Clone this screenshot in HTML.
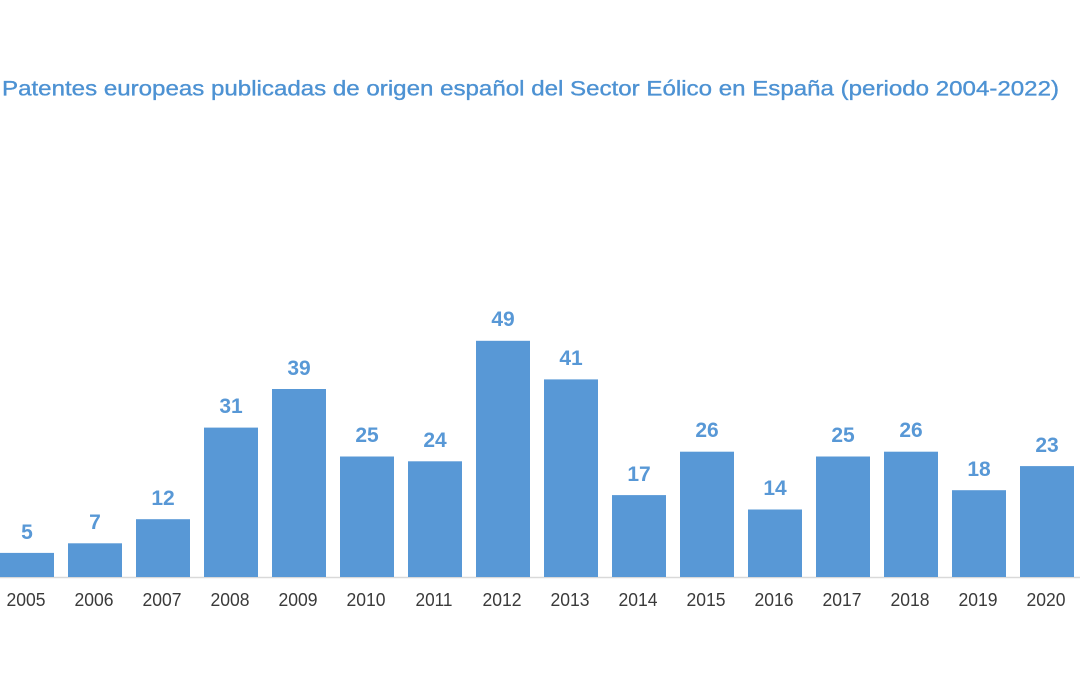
<!DOCTYPE html>
<html>
<head>
<meta charset="utf-8">
<style>
  html, body { margin:0; padding:0; background:#ffffff; }
  body { width:1080px; height:675px; overflow:hidden; }
  svg { display:block; }
</style>
</head>
<body>
<svg width="1080" height="675" viewBox="0 0 1080 675" xmlns="http://www.w3.org/2000/svg">
  <rect x="0" y="0" width="1080" height="675" fill="#ffffff"/>
  <text x="2" y="95.5" font-family="Liberation Sans, sans-serif" font-size="21" fill="#4d92d3" stroke="#4d92d3" stroke-width="0.35" textLength="1057" lengthAdjust="spacingAndGlyphs">Patentes europeas publicadas de origen español del Sector Eólico en España (periodo 2004-2022)</text>

  <line x1="0" y1="577.5" x2="1080" y2="577.5" stroke="#d9d9d9" stroke-width="1.5"/>

  <g fill="#5898d6">
    <rect x="0" y="552.9" width="54" height="24.1"/>
    <rect x="68" y="543.3" width="54" height="33.7"/>
    <rect x="136" y="519.2" width="54" height="57.8"/>
    <rect x="204" y="427.6" width="54" height="149.4"/>
    <rect x="272" y="389.0" width="54" height="188.0"/>
    <rect x="340" y="456.5" width="54" height="120.5"/>
    <rect x="408" y="461.3" width="54" height="115.7"/>
    <rect x="476" y="340.8" width="54" height="236.2"/>
    <rect x="544" y="379.4" width="54" height="197.6"/>
    <rect x="612" y="495.1" width="54" height="81.9"/>
    <rect x="680" y="451.7" width="54" height="125.3"/>
    <rect x="748" y="509.5" width="54" height="67.5"/>
    <rect x="816" y="456.5" width="54" height="120.5"/>
    <rect x="884" y="451.7" width="54" height="125.3"/>
    <rect x="952" y="490.2" width="54" height="86.8"/>
    <rect x="1020" y="466.1" width="54" height="110.9"/>
  </g>

  <g font-family="Liberation Sans, sans-serif" font-size="21" font-weight="bold" fill="#5898d6" text-anchor="middle">
    <text x="27" y="539">5</text>
    <text x="95" y="529">7</text>
    <text x="163" y="505">12</text>
    <text x="231" y="413">31</text>
    <text x="299" y="375">39</text>
    <text x="367" y="442">25</text>
    <text x="435" y="447">24</text>
    <text x="503" y="326">49</text>
    <text x="571" y="365">41</text>
    <text x="639" y="481">17</text>
    <text x="707" y="437">26</text>
    <text x="775" y="495">14</text>
    <text x="843" y="442">25</text>
    <text x="911" y="437">26</text>
    <text x="979" y="476">18</text>
    <text x="1047" y="452">23</text>
  </g>

  <g font-family="Liberation Sans, sans-serif" font-size="18.5" fill="#3a3a3a" text-anchor="middle">
    <text x="26" y="606" textLength="39" lengthAdjust="spacingAndGlyphs">2005</text>
    <text x="94" y="606" textLength="39" lengthAdjust="spacingAndGlyphs">2006</text>
    <text x="162" y="606" textLength="39" lengthAdjust="spacingAndGlyphs">2007</text>
    <text x="230" y="606" textLength="39" lengthAdjust="spacingAndGlyphs">2008</text>
    <text x="298" y="606" textLength="39" lengthAdjust="spacingAndGlyphs">2009</text>
    <text x="366" y="606" textLength="39" lengthAdjust="spacingAndGlyphs">2010</text>
    <text x="434" y="606" textLength="37" lengthAdjust="spacingAndGlyphs">2011</text>
    <text x="502" y="606" textLength="39" lengthAdjust="spacingAndGlyphs">2012</text>
    <text x="570" y="606" textLength="39" lengthAdjust="spacingAndGlyphs">2013</text>
    <text x="638" y="606" textLength="39" lengthAdjust="spacingAndGlyphs">2014</text>
    <text x="706" y="606" textLength="39" lengthAdjust="spacingAndGlyphs">2015</text>
    <text x="774" y="606" textLength="39" lengthAdjust="spacingAndGlyphs">2016</text>
    <text x="842" y="606" textLength="39" lengthAdjust="spacingAndGlyphs">2017</text>
    <text x="910" y="606" textLength="39" lengthAdjust="spacingAndGlyphs">2018</text>
    <text x="978" y="606" textLength="39" lengthAdjust="spacingAndGlyphs">2019</text>
    <text x="1046" y="606" textLength="39" lengthAdjust="spacingAndGlyphs">2020</text>
  </g>
</svg>
</body>
</html>
